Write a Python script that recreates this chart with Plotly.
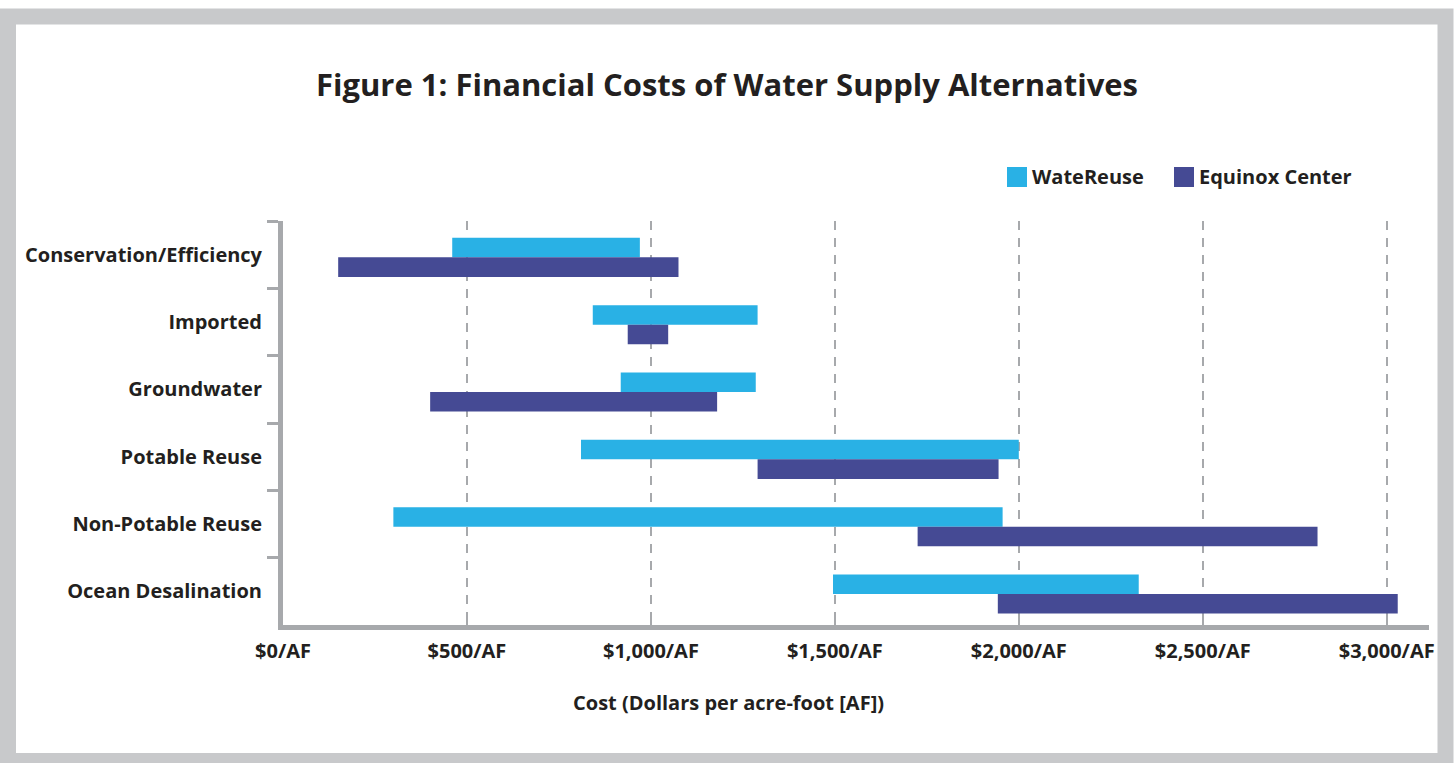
import plotly.graph_objects as go

categories = ["Conservation/Efficiency", "Imported", "Groundwater", "Potable Reuse",
              "Non-Potable Reuse", "Ocean Desalination"]
watereuse_low = [460, 842, 918, 810, 300, 1495]
watereuse_high = [970, 1290, 1285, 2000, 1956, 2326]
equinox_low = [150, 937, 400, 1290, 1725, 1943]
equinox_high = [1075, 1047, 1180, 1945, 2812, 3030]
tick_values = [0, 500, 1000, 1500, 2000, 2500, 3000]
tick_labels = ["$0/AF", "$500/AF", "$1,000/AF", "$1,500/AF", "$2,000/AF", "$2,500/AF", "$3,000/AF"]

W, H = 1456, 763
L, R, T, B = 283, 1429, 221, 625
PW, PH = R - L, B - T
C_WR = "#29b1e5"
C_EQ = "#454a94"
GRAY = "#a7a9ac"
FRAME = "#c8c9cb"
TXT = "#231f20"
FONT = "Open Sans"

def px(x):
    return (x - L) / PW

def py(y):
    return (B - y) / PH

BAR_W = 0.29
SHIFT = 0.04

fig = go.Figure()
fig.add_trace(go.Bar(
    name="WateReuse", orientation="h", y=categories,
    x=[h - l for l, h in zip(watereuse_low, watereuse_high)], base=watereuse_low,
    width=BAR_W, offset=-BAR_W + SHIFT,
    marker=dict(color=C_WR, line=dict(width=0)), showlegend=False))
fig.add_trace(go.Bar(
    name="Equinox Center", orientation="h", y=categories,
    x=[h - l for l, h in zip(equinox_low, equinox_high)], base=equinox_low,
    width=BAR_W, offset=SHIFT,
    marker=dict(color=C_EQ, line=dict(width=0)), showlegend=False))

shapes = [
    dict(type="rect", xref="paper", yref="paper", layer="below",
         x0=px(8), x1=px(1445.5), y0=py(16.5), y1=py(761),
         line=dict(color=FRAME, width=16), fillcolor="rgba(0,0,0,0)"),
    dict(type="rect", xref="paper", yref="paper",
         x0=px(1007), x1=px(1027), y0=py(187), y1=py(167),
         line=dict(width=0), fillcolor=C_WR),
    dict(type="rect", xref="paper", yref="paper",
         x0=px(1174), x1=px(1194), y0=py(187), y1=py(167),
         line=dict(width=0), fillcolor=C_EQ),
]

annotations = [
    dict(text="<b>WateReuse</b>", xref="paper", yref="paper", x=px(1030), y=py(177),
         xanchor="left", yanchor="middle", showarrow=False,
         font=dict(family=FONT, size=20, color=TXT)),
    dict(text="<b>Equinox Center</b>", xref="paper", yref="paper", x=px(1197), y=py(177),
         xanchor="left", yanchor="middle", showarrow=False,
         font=dict(family=FONT, size=20, color=TXT)),
    dict(text="<b>Cost (Dollars per acre-foot [AF])</b>", xref="paper", yref="paper",
         x=px(728), y=py(702), xanchor="center", yanchor="middle", showarrow=False,
         font=dict(family=FONT, size=20, color=TXT)),
]

fig.update_layout(
    width=W, height=H,
    margin=dict(l=L, r=W - R, t=T, b=H - B, pad=0),
    paper_bgcolor="white", plot_bgcolor="white",
    barmode="overlay",
    title=dict(text="<b>Figure 1: Financial Costs of Water Supply Alternatives</b>",
               x=727 / W, xanchor="center", y=1 - 85 / H, yanchor="middle",
               xref="container", yref="container",
               font=dict(family=FONT, size=31, color=TXT)),
    shapes=shapes, annotations=annotations,
    xaxis=dict(range=[0, 3115], tickvals=tick_values, ticktext=tick_labels,
               showgrid=True, gridcolor=GRAY, gridwidth=2, griddash="9px,8px",
               showline=True, linecolor=GRAY, linewidth=5,
               ticks="inside", ticklen=9, tickwidth=2, tickcolor=GRAY,
               ticklabelstandoff=4, zeroline=False,
               tickfont=dict(family=FONT, size=20, color=TXT, weight="bold")),
    yaxis=dict(autorange="reversed", type="category",
               tickson="boundaries", ticks="outside", ticklen=11, tickwidth=3, tickcolor=GRAY,
               showline=True, linecolor=GRAY, linewidth=5, showgrid=False,
               ticklabelstandoff=12,
               tickfont=dict(family=FONT, size=20, color=TXT, weight="bold")),
)

fig.write_html("out.html", config={"displayModeBar": False},
               post_script="document.body.style.margin='0px';")
